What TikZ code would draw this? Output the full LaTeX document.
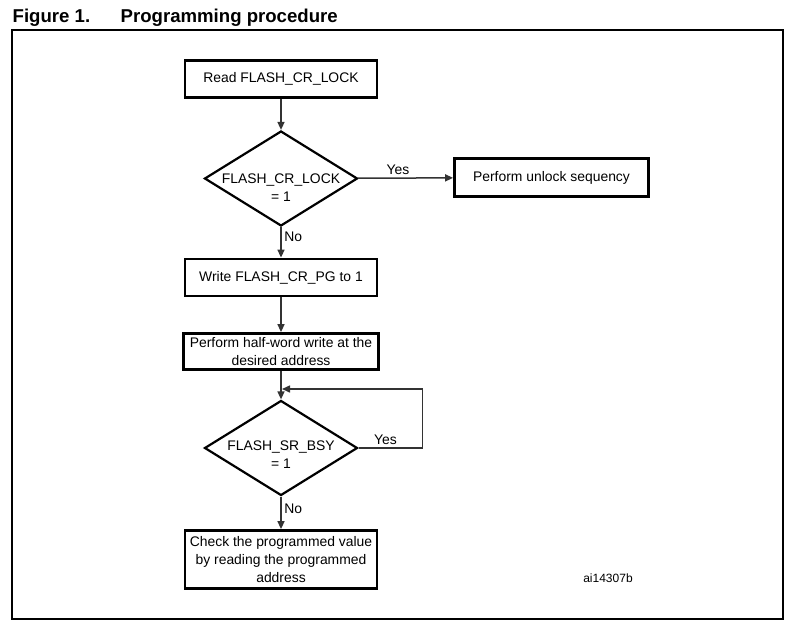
\documentclass[tikz,border=0pt]{standalone}
\usepackage{fontspec}
\setmainfont{Liberation Sans}
\usetikzlibrary{arrows.meta}
\usetikzlibrary{shapes.geometric}

\begin{document}
\begin{tikzpicture}[x=1pt,y=-1pt,
  font=\fontsize{13.9}{18}\selectfont,
  stepbox/.style={draw,rectangle,line width=2.8pt,minimum width=192pt,minimum height=37pt,inner sep=0pt,align=center},
  decision/.style={draw,diamond,line width=2.2pt,minimum width=153pt,minimum height=95pt,inner sep=0pt},
  flow/.style={line width=1.5pt,draw=black!80,-{Triangle[length=8pt,width=7pt]}},
  tag/.style={inner sep=2.5pt}]
\useasboundingbox (0,0) rectangle (795,631);
\draw[line width=1.5pt] (12,30) rectangle (783,619);
\node[anchor=base west,inner sep=0pt,font=\fontsize{18.6}{22}\selectfont\bfseries] (fignum) at (12.5,23) {Figure 1.};
\node[anchor=base west,inner sep=0pt,font=\fontsize{18.6}{22}\selectfont\bfseries] (figname) at (120.5,23) {Programming procedure};
  \node[stepbox] (readlock) at (281,79) {Read FLASH\_CR\_LOCK};
  \node[decision,label={[align=center,yshift=-9pt]center:FLASH\_CR\_LOCK\\= 1}] (lockset) at (281,178.5) {};
  \node[stepbox,minimum width=194pt,minimum height=38pt] (unlock) at (551.5,177.5) {Perform unlock sequency};
  \node[stepbox,minimum height=37pt] (setpg) at (281,277.5) {Write FLASH\_CR\_PG to 1};
  \node[stepbox,minimum width=195pt,minimum height=36pt] (halfword) at (281,351.5) {Perform half-word write at the\\desired address};
  \node[decision,label={[align=center,yshift=-7pt]center:FLASH\_SR\_BSY\\= 1}] (busy) at (281,448) {};
  \node[stepbox,minimum height=58pt] (verify) at (281,559.5) {Check the programmed value\\by reading the programmed\\address};
  \node[font=\fontsize{12}{14}\selectfont] (docref) at (608,578) {ai14307b};
  \coordinate (retry) at (282,389);
  \draw[flow] (readlock) -- (lockset);
  \draw[flow] (lockset) -- node[above,pos=0.42,tag]{Yes} (unlock);
  \draw[flow] (lockset) -- node[right,pos=0.31,tag]{No} (setpg);
  \draw[flow] (setpg) -- (halfword);
  \draw[flow] (halfword) -- (busy);
  \draw[flow] (busy.east) -- node[above,pos=0.42,tag]{Yes} ++(64,0) |- (retry);
  \draw[flow] (busy) -- node[right,pos=0.38,tag]{No} (verify);
\end{tikzpicture}
\end{document}
